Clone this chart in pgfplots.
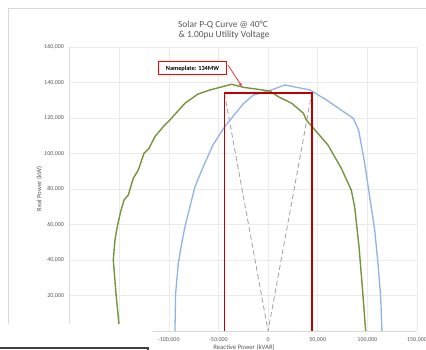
\documentclass[border=0pt]{standalone}
\usepackage{fontspec}
\setmainfont{Carlito}
\usepackage{pgfplots}
\pgfplotsset{compat=1.18}
\usetikzlibrary{arrows.meta}
\definecolor{pvgreen}{HTML}{77933C}
\definecolor{pvblue}{HTML}{8EB4E3}
\definecolor{rectred}{HTML}{C00000}
\definecolor{gridc}{HTML}{EBEBEB}
\definecolor{axc}{HTML}{D9D9D9}
\definecolor{txt}{HTML}{595959}
\begin{document}
\begin{tikzpicture}
\useasboundingbox (0,0) rectangle (426pt,350pt);
\begin{axis}[
  at={(69.5pt,19pt)}, anchor=south west,
  scale only axis, width=347.5pt, height=284pt,
  xmin=-200000, xmax=150000, ymin=0, ymax=160000,
  xtick={-200000,-150000,-100000,-50000,0,50000,100000,150000},
  xticklabels={,,-100{,}000,-50{,}000,0,50{,}000,100{,}000,150{,}000},
  ytick={0,20000,40000,60000,80000,100000,120000,140000,160000},
  yticklabels={,20{,}000,40{,}000,60{,}000,80{,}000,100{,}000,120{,}000,140{,}000,160{,}000},
  scaled ticks=false,
  grid=major, major grid style={draw=gridc, line width=0.5pt},
  axis x line=bottom, axis y line=left,
  axis line style={-, draw=axc, line width=0.8pt},
  major tick length=0pt, tick style={draw=none},
  xticklabel style={font=\fontsize{6}{7}\selectfont, text=txt, yshift=-3pt},
  yticklabel style={font=\fontsize{6}{7}\selectfont, text=txt, xshift=-2pt},
]
\addplot[draw=gray!75, dashed, dash pattern=on 5pt off 3pt, line width=0.8pt] coordinates {
(-44000,134000) (0,0) (44000,134000)};
\addplot[draw=pvblue, line width=1.3pt] coordinates {
(-93800,0) (-93100,21200) (-90400,38100) (-87000,49400) (-83700,58800)
(-78700,70000) (-73600,81300) (-65300,92600) (-55500,104800) (-45000,114000)
(-33000,122500) (-25000,128000) (-14900,132900) (200,135200) (17000,138600)
(42200,135800) (59000,130100) (85800,119800) (91200,113200) (97300,94500)
(102300,75700) (107400,56900) (110700,38100) (113400,19300) (114700,0)};
\addplot[draw=pvgreen, line width=1.4pt] coordinates {
(-149500,0) (-153200,21200) (-155900,40000) (-154200,51300) (-151900,58800)
(-148500,67200) (-145100,73800) (-140800,76600) (-135800,86000) (-130700,90700)
(-125000,100100) (-120000,102900) (-113900,109500) (-105600,115100) (-98900,118900)
(-83700,128300) (-70900,133400) (-58500,135800) (-36700,139000) (-25000,137300)
(1900,135200) (10300,132000) (23800,128300) (35500,122700) (38500,118900)
(60300,104800) (73700,91700) (83800,79400) (87200,70000) (91600,47500)
(94900,25000) (98300,0)};
\addplot[draw=rectred, line width=1.5pt] coordinates {
(-44000,0) (-44000,134000) (44000,134000) (44000,0)};
\draw[red, line width=0.6pt, -{Stealth[length=3.5pt,width=3pt]}] (axis cs:-40100,149600) -- (axis cs:-26600,138000);
\node[draw=red, fill=white, line width=0.8pt, inner sep=0pt, minimum width=68pt, minimum height=13pt,
  font=\bfseries\fontsize{6.3}{7}\selectfont] at (axis cs:-76100,148000) {Nameplate: 134MW};
\end{axis}
\fill[white] (0,0) rectangle (153pt,26pt);
\draw[axc, line width=0.6pt] (8pt,26pt) -- (8pt,342pt) -- (426pt,342pt);
\draw[black!75, line width=1.2pt] (0,2pt) -- (148pt,2pt) -- (148pt,0);
\node[text=txt, font=\fontsize{9.4}{11}\selectfont] at (223pt,325pt) {Solar P-Q Curve @ 40°C};
\node[text=txt, font=\fontsize{9.4}{11}\selectfont] at (224pt,315pt) {\& 1.00pu Utility Voltage};
\node[text=txt, font=\fontsize{6.7}{8}\selectfont] at (244pt,2.5pt) {Reactive Power (kVAR)};
\node[text=txt, font=\fontsize{6.7}{8}\selectfont, rotate=90] at (39.5pt,161pt) {Real Power (kW)};
\end{tikzpicture}
\end{document}
